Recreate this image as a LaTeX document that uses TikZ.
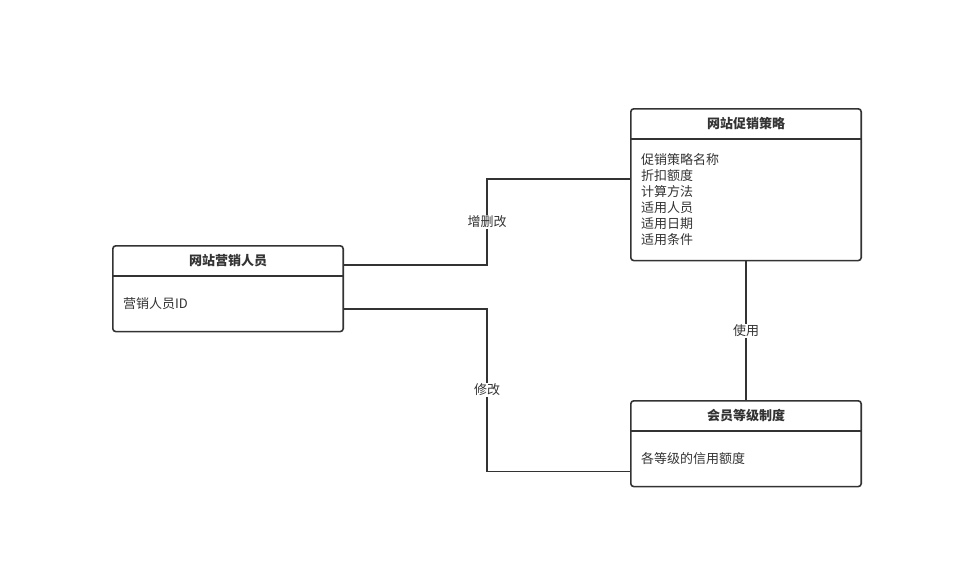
\documentclass[tikz,border=0pt]{standalone}
\usepackage{fontspec}
\setmainfont{Noto Sans CJK SC}
\usepackage{tikz}
\usetikzlibrary{positioning,calc}

\definecolor{linegray}{HTML}{333333}
\tikzset{
  tablehead/.style={minimum width=230pt,minimum height=30pt,inner sep=0pt,font=\fontsize{13}{16}\selectfont\bfseries,text=linegray},
  tablebody/.style={text width=210pt,inner xsep=10pt,inner ysep=0pt,align=left,font=\fontsize{13}{16}\selectfont,text=linegray},
  link/.style={draw=linegray,line width=1.6pt},
  linklabel/.style={fill=white,inner sep=1pt,font=\fontsize{13}{16}\selectfont,text=linegray}
}

\begin{document}
\begin{tikzpicture}[x=1pt,y=-1pt]
  \useasboundingbox (0,0) rectangle (980,568);

  % tables
  \node[tablehead] (staff) at (228,261) {网站营销人员};
  \node[tablebody,minimum height=55pt,below=0pt of staff] (staffbody) {营销人员ID};

  \node[tablehead] (promo) at (746,124) {网站促销策略};
  \node[tablebody,minimum height=121pt,below=0pt of promo] (promobody) {促销策略名称\\折扣额度\\计算方法\\适用人员\\适用日期\\适用条件};

  \node[tablehead] (level) at (746,416) {会员等级制度};
  \node[tablebody,minimum height=55pt,below=0pt of level] (levelbody) {各等级的信用额度};

  %frames
  \draw[link,rounded corners=3pt] (staff.north west) rectangle (staffbody.south east);
  \draw[link] (staff.south west) -- (staff.south east);
  \draw[link,rounded corners=3pt] (promo.north west) rectangle (promobody.south east);
  \draw[link] (promo.south west) -- (promo.south east);
  \draw[link,rounded corners=3pt] (level.north west) rectangle (levelbody.south east);
  \draw[link] (level.south west) -- (level.south east);

  %staff>promo
  \coordinate (s1) at ($(staff.south east)+(0,-11)$);
  \coordinate (p1) at ($(promobody.north west)+(0,40)$);
  \draw[link] (s1) -| (487,222) node[linklabel] {增删改} |- (p1);

  %staff>level
  \coordinate (s2) at ($(staff.south east)+(0,33)$);
  \coordinate (l1) at ($(levelbody.south west)+(0,-15)$);
  \draw[link] (s2) -| (487,390) node[linklabel] {修改} |- (l1);

  %promo>level
  \draw[link] (promobody.south) -- node[linklabel] {使用} (level.north);
\end{tikzpicture}
\end{document}
